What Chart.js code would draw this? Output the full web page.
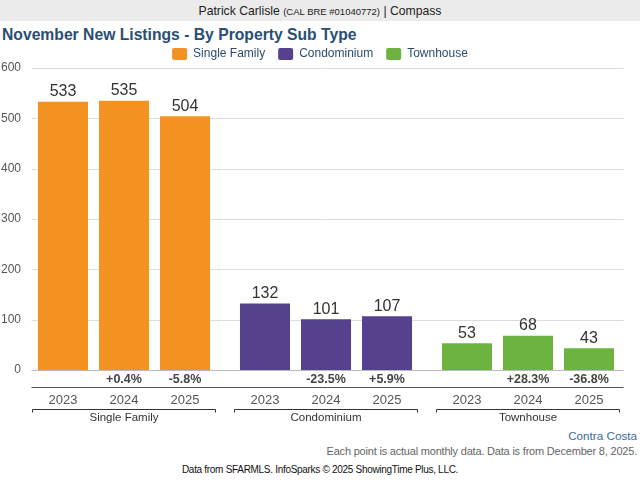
<!DOCTYPE html>
<html>
<head>
<meta charset="utf-8">
<script src="https://cdn.jsdelivr.net/npm/chart.js@4.4.1/dist/chart.umd.min.js"></script>
<style>
  body { margin: 0; width: 640px; height: 480px; overflow: hidden; background: #fff; font-family: "Liberation Sans", Arial, sans-serif; position: relative; }
  #header { position: absolute; left: 0; top: 0; width: 640px; height: 21px; background: #ebebeb; text-align: center; font-size: 12.2px; line-height: 22px; color: #222; }
  #header small { font-size: 9.5px; }
  #title { position: absolute; left: 2px; top: 26px; font-size: 15.7px; font-weight: bold; color: #294e73; white-space: nowrap; }
  #chartBox { position: absolute; left: 0; top: 20px; }
  .foot { position: absolute; white-space: nowrap; }
  #area { right: 3px; top: 429px; font-size: 11.7px; color: #3d6a9e; }
  #note { right: 3px; top: 445px; font-size: 11px; letter-spacing: -0.2px; color: #666; }
  #source { left: 0; width: 640px; text-align: center; top: 464px; font-size: 10px; letter-spacing: -0.3px; color: #111; }
</style>
</head>
<body>
<div id="header">Patrick Carlisle <small>(CAL BRE #01040772)</small> | Compass</div>
<div id="title">November New Listings - By Property Sub Type</div>
<div id="chartBox"><canvas id="chart" width="640" height="405"></canvas></div>
<div class="foot" id="area">Contra Costa</div>
<div class="foot" id="note">Each point is actual monthly data. Data is from December 8, 2025.</div>
<div class="foot" id="source">Data from SFARMLS. InfoSparks © 2025 ShowingTime Plus, LLC.</div>

<script>
const categories = ['Single Family', 'Condominium', 'Townhouse'];
const years = ['2023', '2024', '2025'];
const singleFamily = [533, 535, 504];
const condominium = [132, 101, 107];
const townhouse = [53, 68, 43];
const yTicks = [0, 100, 200, 300, 400, 500, 600];

const colors = ['#f39221', '#56418e', '#6cb43f'];
const byType = [singleFamily, condominium, townhouse];
const FONT = '"Liberation Sans", Arial, sans-serif';

// one dataset per year, bars coloured by property type
const datasets = years.map((yr, i) => ({
  label: yr,
  data: byType.map(s => s[i]),
  backgroundColor: colors,
  categoryPercentage: 0.906,
  barPercentage: 0.82
}));

function pctLabel(cur, prev) {
  const p = (cur - prev) / prev * 100;
  return (p >= 0 ? '+' : '') + p.toFixed(1) + '%';
}

// left/right edge of each property-type group, from the bar elements
function groupEdges(chart) {
  const groups = [];
  chart.data.datasets.forEach((ds, i) => {
    chart.getDatasetMeta(i).data.forEach((bar, j) => {
      const slot = bar.width / ds.barPercentage;
      const l = bar.x - slot / 2, r = bar.x + slot / 2;
      if (!groups[j]) groups[j] = {l: l, r: r};
      groups[j].l = Math.min(groups[j].l, l);
      groups[j].r = Math.max(groups[j].r, r);
    });
  });
  return groups;
}

// tighter legend box, centred on the page
const legendFit = {
  id: 'legendFit',
  beforeLayout(chart) {
    const lg = chart.legend;
    if (lg && !lg._patched) {
      const fit = lg.fit;
      lg.fit = function () { fit.call(this); this.height -= 2; };
      lg._patched = true;
    }
  },
  afterLayout(chart) {
    if (chart.legend) chart.legend.left += 11;
  }
};

const labelsPlugin = {
  id: 'labels',
  beforeDatasetsDraw(chart) {
    const ctx = chart.ctx;
    const y = chart.scales.y;
    const groups = groupEdges(chart);
    const x0 = groups[0].l - 1, x1 = groups[groups.length - 1].r + 4;
    ctx.save();
    ctx.lineWidth = 1;
    yTicks.forEach(v => {
      const py = Math.round(y.getPixelForValue(v)) + 0.5;
      ctx.strokeStyle = v === 0 ? '#bbb' : '#ddd';
      ctx.beginPath();
      ctx.moveTo(x0, py);
      ctx.lineTo(x1, py);
      ctx.stroke();
    });
    ctx.restore();
  },
  afterDraw(chart) {
    const ctx = chart.ctx;
    const base = chart.chartArea.bottom;
    const groups = groupEdges(chart);
    ctx.save();
    ctx.textAlign = 'center';
    chart.data.datasets.forEach((ds, i) => {
      chart.getDatasetMeta(i).data.forEach((bar, j) => {
        ctx.fillStyle = '#333';
        ctx.font = '16px ' + FONT;
        ctx.textBaseline = 'bottom';
        ctx.fillText(ds.data[j], bar.x, bar.y - 2);
        if (i > 0) {
          ctx.fillStyle = '#444';
          ctx.font = 'bold 12.5px ' + FONT;
          ctx.textBaseline = 'middle';
          ctx.fillText(pctLabel(ds.data[j], chart.data.datasets[i - 1].data[j]), bar.x, base + 10);
        }
        ctx.fillStyle = '#555';
        ctx.font = '13px ' + FONT;
        ctx.textBaseline = 'middle';
        ctx.fillText(years[i], bar.x, base + 30);
      });
    });
    ctx.strokeStyle = '#555';
    ctx.lineWidth = 1;
    ctx.beginPath();
    ctx.moveTo(groups[0].l - 1, base + 17.5);
    ctx.lineTo(groups[groups.length - 1].r + 4, base + 17.5);
    ctx.stroke();
    groups.forEach((g, j) => {
      ctx.strokeStyle = '#333';
      ctx.beginPath();
      ctx.moveTo(Math.round(g.l) + 0.5, base + 42.5);
      ctx.lineTo(Math.round(g.l) + 0.5, base + 39.5);
      ctx.lineTo(Math.round(g.r) - 0.5, base + 39.5);
      ctx.lineTo(Math.round(g.r) - 0.5, base + 42.5);
      ctx.stroke();
      ctx.fillStyle = '#333';
      ctx.font = '11.5px ' + FONT;
      ctx.textBaseline = 'middle';
      ctx.fillText(categories[j], (g.l + g.r) / 2, base + 47.5);
    });
    ctx.restore();
  }
};

new Chart(document.getElementById('chart'), {
  type: 'bar',
  data: { labels: categories, datasets: datasets },
  plugins: [legendFit, labelsPlugin],
  options: {
    responsive: false,
    animation: false,
    layout: { padding: { top: 15, right: 11, bottom: 55, left: 0 } },
    plugins: {
      tooltip: { enabled: false },
      legend: {
        display: true,
        labels: {
          boxWidth: 15,
          boxHeight: 12,
          padding: 13,
          useBorderRadius: true,
          borderRadius: 2,
          color: '#2b4b70',
          font: { size: 12, family: FONT },
          generateLabels: () => categories.map((c, i) => ({
            text: c, fillStyle: colors[i], strokeStyle: colors[i], lineWidth: 0,
            fontColor: '#2b4b70', borderRadius: 2
          }))
        }
      }
    },
    scales: {
      x: { display: false },
      y: {
        min: 0,
        max: 600,
        afterBuildTicks: s => { s.ticks = yTicks.map(v => ({value: v})); },
        afterFit: s => { s.width = 23; },
        border: { display: false },
        grid: { display: false, drawTicks: false },
        ticks: {
          padding: 2,
          color: '#555',
          font: { size: 12, family: FONT }
        }
      }
    }
  }
});
</script>
</body>
</html>
